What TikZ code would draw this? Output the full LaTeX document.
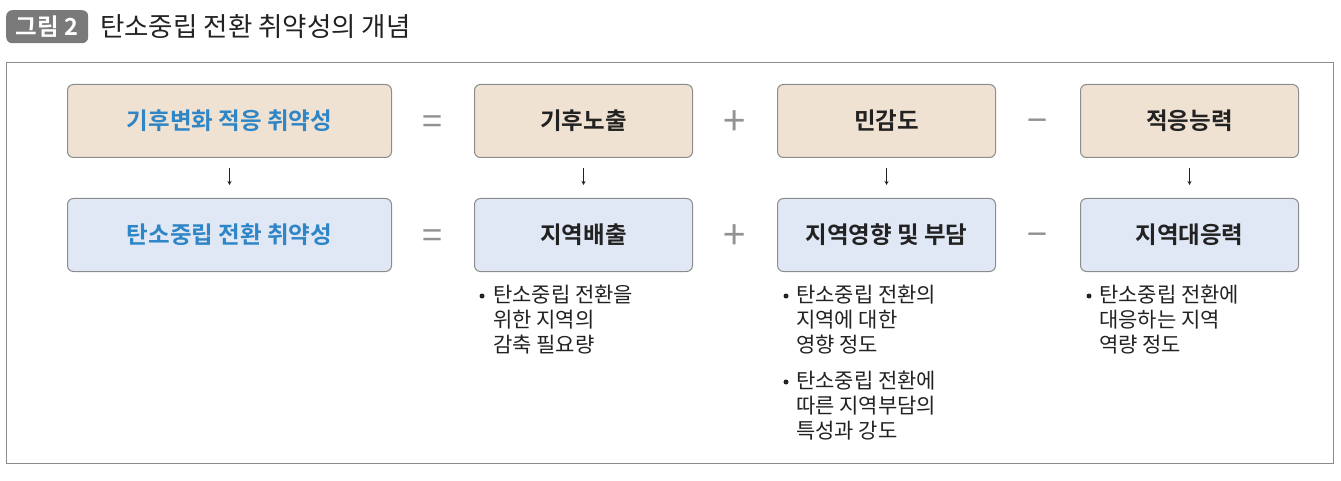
\documentclass[tikz,border=0pt]{standalone}
\usepackage{fontspec}
\setmainfont{Noto Sans CJK KR}[BoldFont={Noto Sans CJK KR Bold}]
\usetikzlibrary{arrows.meta}
\definecolor{beige}{HTML}{F0E2D2}
\definecolor{lblue}{HTML}{E1E8F5}
\definecolor{bord}{HTML}{8C8C8C}
\definecolor{tblue}{HTML}{2F86C6}
\definecolor{tdark}{HTML}{222222}
\definecolor{opgray}{HTML}{929292}
\definecolor{badge}{HTML}{7A7A7A}
\begin{document}
\begin{tikzpicture}[x=1pt,y=-1pt,
  box/.style={draw=bord,line width=1pt,rounded corners=6pt,inner sep=0pt,anchor=north west,font=\fontsize{23.5}{26}\selectfont\bfseries,text=tdark},
  top/.style={box,fill=beige},
  bot/.style={box,fill=lblue},
  op/.style={font=\fontsize{36}{36}\selectfont,text=opgray,inner sep=0pt},
  plusop/.style={op,font=\fontsize{40}{40}\selectfont},
  arr/.style={-{Stealth[length=4pt,width=4pt]},line width=0.9pt,draw=tdark,shorten <=10pt,shorten >=13pt},
  bul/.style={anchor=north west,inner sep=0pt,font=\fontsize{21}{24.8}\selectfont,text=tdark,align=left},
  dot/.style={circle,fill=tdark,inner sep=0pt,minimum size=5pt}
]
\useasboundingbox (0,0) rectangle (1341,481);
% title
\node[fill=badge,rounded corners=6pt,anchor=north west,minimum width=82pt,minimum height=33pt,inner sep=0pt,text=white,font=\fontsize{23.5}{26}\selectfont\bfseries] (badge) at (6,10) {그림 2};
\node[anchor=west,inner sep=0pt,font=\fontsize{26.5}{30}\selectfont,text=tdark] (title) at (100,27) {탄소중립 전환 취약성의 개념};
% frame
\node[draw=bord,line width=1pt,anchor=north west,minimum width=1327pt,minimum height=401pt,inner sep=0pt] (frame) at (6,62) {};
% boxes
\node[top,minimum width=324pt,minimum height=73pt,text=tblue] (a1) at (67,84) {기후변화 적응 취약성};
\node[top,minimum width=218pt,minimum height=73pt] (b1) at (474,84) {기후노출};
\node[top,minimum width=218pt,minimum height=73pt] (c1) at (777,84) {민감도};
\node[top,minimum width=218pt,minimum height=73pt] (d1) at (1080,84) {적응능력};
\node[bot,minimum width=324pt,minimum height=73pt,text=tblue] (a2) at (67,198) {탄소중립 전환 취약성};
\node[bot,minimum width=218pt,minimum height=73pt] (b2) at (474,198) {지역배출};
\node[bot,minimum width=218pt,minimum height=73pt] (c2) at (777,198) {지역영향 및 부담};
\node[bot,minimum width=218pt,minimum height=73pt] (d2) at (1080,198) {지역대응력};
% operators
\node[op] (e1) at (432,125.5) {=};
\node[plusop] (p1) at (734.5,123.5) {+};
\node[op] (m1) at (1037,126.5) {−};
\node[op] (e2) at (432,239.5) {=};
\node[plusop] (p2) at (734.5,237.5) {+};
\node[op] (m2) at (1037,240.5) {−};
% arrows
\draw[arr] (a1.south) -- (a2.north);
\draw[arr] (b1.south) -- (b2.north);
\draw[arr] (c1.south) -- (c2.north);
\draw[arr] (d1.south) -- (d2.north);
% bullets
\node[dot] (bd1) at (482,296) {};
\node[bul] (bt1) at (493,285) {탄소중립 전환을\\위한 지역의\\감축 필요량};
\node[dot] (bd2) at (786,296) {};
\node[bul] (bt2) at (796,285) {탄소중립 전환의\\지역에 대한\\영향 정도};
\node[dot] (bd3) at (786,382) {};
\node[bul] (bt3) at (796,371) {탄소중립 전환에\\따른 지역부담의\\특성과 강도};
\node[dot] (bd4) at (1089,296) {};
\node[bul] (bt4) at (1099,285) {탄소중립 전환에\\대응하는 지역\\역량 정도};
\end{tikzpicture}
\end{document}
